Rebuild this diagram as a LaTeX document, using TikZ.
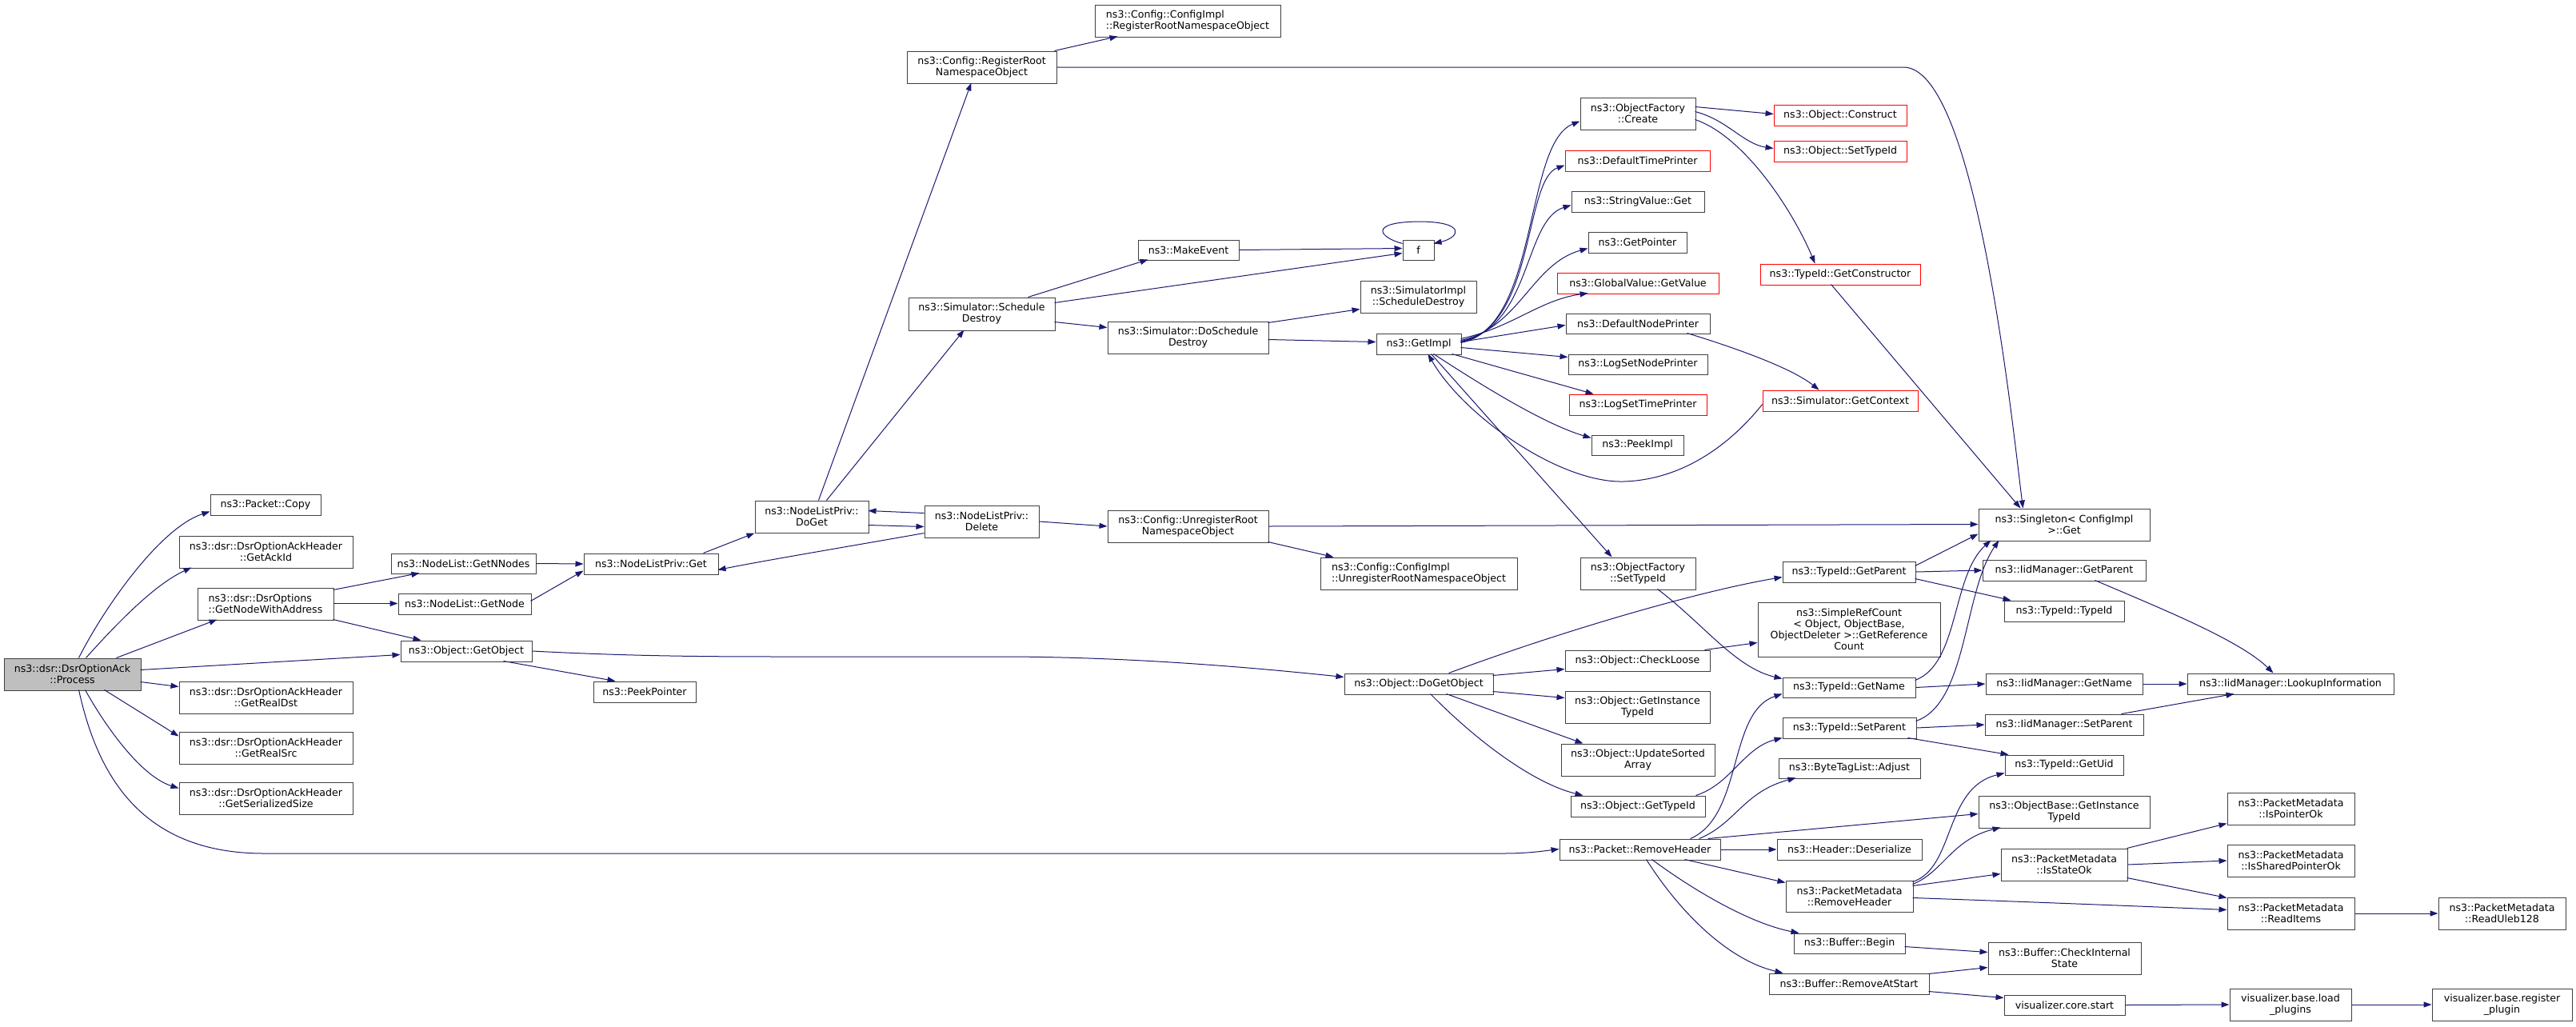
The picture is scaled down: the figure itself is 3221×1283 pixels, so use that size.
\documentclass[tikz,border=0pt]{standalone}
\usepackage{fontspec}
\setmainfont{DejaVu Sans}
\usetikzlibrary{arrows.meta,calc}
\definecolor{edgec}{HTML}{191970}
\definecolor{bordc}{HTML}{404040}
\definecolor{rootfill}{HTML}{BFBFBF}
\tikzset{
 box/.style={draw=bordc, line width=1pt, fill=white, inner sep=0pt, align=center, font=\fontsize{12.6}{14}\selectfont, text=black},
 redbox/.style={draw=red, line width=0.9pt},
 rootbox/.style={fill=rootfill},
 ed/.style={draw=edgec, line width=1pt, -{Triangle[length=10pt,width=7pt]}}
}
\newcommand\mybox[7][]{\node[box,#1,minimum width={(#5-#3)*1pt},minimum height={(#6-#4)*1pt}] (#2) at ({(#3+#5)/2},{(#4+#6)/2}) {#7};}
\begin{document}
\begin{tikzpicture}[x=1pt,y=-1pt]
\useasboundingbox (0,0) rectangle (3221,1283);
% column 1-2
\mybox[rootbox]{proc}{5}{823}{176}{863}{ns3::dsr::DsrOptionAck\\::Process}
\mybox{copy}{263}{618}{401}{644}{ns3::Packet::Copy}
\mybox{ackid}{224}{670}{441}{710}{ns3::dsr::DsrOptionAckHeader\\::GetAckId}
\mybox[align=left]{gnwa}{247}{735}{417}{775}{ns3::dsr::DsrOptions\\::GetNodeWithAddress}
\mybox{realdst}{224}{852}{441}{892}{ns3::dsr::DsrOptionAckHeader\\::GetRealDst}
\mybox{realsrc}{224}{915}{441}{955}{ns3::dsr::DsrOptionAckHeader\\::GetRealSrc}
\mybox{sersize}{224}{978}{441}{1018}{ns3::dsr::DsrOptionAckHeader\\::GetSerializedSize}
\mybox{gnnodes}{489}{692}{670}{717}{ns3::NodeList::GetNNodes}
\mybox{getnode}{498}{742}{664}{768}{ns3::NodeList::GetNode}
\mybox{getobj}{501}{801}{665}{827}{ns3::Object::GetObject}
\mybox{nlget}{730}{692}{898}{718}{ns3::NodeListPriv::Get}
\mybox{peekptr}{742}{852}{870}{878}{ns3::PeekPointer}
\mybox{doget}{944}{626}{1086}{666}{ns3::NodeListPriv::\\DoGet}
\mybox{delete}{1156}{632}{1299}{672}{ns3::NodeListPriv::\\Delete}
\mybox{regroot}{1134}{64}{1321}{104}{ns3::Config::RegisterRoot\\NamespaceObject}
\mybox[align=left]{ciregroot}{1369}{6}{1601}{46}{ns3::Config::ConfigImpl\\::RegisterRootNamespaceObject}
\mybox{schdes}{1136}{372}{1319}{413}{ns3::Simulator::Schedule\\Destroy}
\mybox{makeev}{1423}{300}{1549}{325}{ns3::MakeEvent}
\mybox{doschdes}{1385}{402}{1586}{442}{ns3::Simulator::DoSchedule\\Destroy}
\mybox{unreg}{1385}{638}{1586}{678}{ns3::Config::UnregisterRoot\\NamespaceObject}
\mybox{f}{1754}{300}{1793}{325}{f}
\mybox{simimpl}{1701}{351}{1846}{391}{ns3::SimulatorImpl\\::ScheduleDestroy}
\mybox{getimpl}{1721}{417}{1827}{443}{ns3::GetImpl}
\mybox{ofcreate}{1976}{122}{2120}{162}{ns3::ObjectFactory\\::Create}
\mybox[redbox]{deftp}{1957}{188}{2138}{214}{ns3::DefaultTimePrinter}
\mybox{strget}{1965}{239}{2131}{265}{ns3::StringValue::Get}
\mybox{getptr}{1986}{290}{2109}{316}{ns3::GetPointer}
\mybox[redbox]{gvget}{1947}{341}{2149}{367}{ns3::GlobalValue::GetValue}
\mybox{defnp}{1958}{392}{2138}{417}{ns3::DefaultNodePrinter}
\mybox{lsnp}{1961}{443}{2135}{468}{ns3::LogSetNodePrinter}
\mybox[redbox]{lstp}{1962}{493}{2134}{519}{ns3::LogSetTimePrinter}
\mybox{peekimpl}{1990}{544}{2105}{569}{ns3::PeekImpl}
\mybox{ofsettid}{1976}{697}{2120}{737}{ns3::ObjectFactory\\::SetTypeId}
\mybox[align=left]{ciunreg}{1651}{697}{1897}{737}{ns3::Config::ConfigImpl\\::UnregisterRootNamespaceObject}
\mybox{dogetobj}{1681}{842}{1867}{868}{ns3::Object::DoGetObject}
\mybox{checkloose}{1957}{813}{2138}{839}{ns3::Object::CheckLoose}
\mybox{objgit}{1957}{864}{2138}{904}{ns3::Object::GetInstance\\TypeId}
\mybox{updsort}{1952}{930}{2144}{970}{ns3::Object::UpdateSorted\\Array}
\mybox{objgettid}{1964}{995}{2132}{1021}{ns3::Object::GetTypeId}
\mybox{pktrh}{1950}{1049}{2151}{1075}{ns3::Packet::RemoveHeader}
\mybox[redbox]{construct}{2218}{131}{2384}{157}{ns3::Object::Construct}
\mybox[redbox]{objsettid}{2218}{176}{2384}{202}{ns3::Object::SetTypeId}
\mybox[redbox]{getctor}{2201}{330}{2401}{356}{ns3::TypeId::GetConstructor}
\mybox[redbox]{getctx}{2204}{488}{2398}{514}{ns3::Simulator::GetContext}
\mybox{tidgp}{2229}{702}{2395}{728}{ns3::TypeId::GetParent}
\mybox{simpleref}{2198}{753}{2426}{821}{ns3::SimpleRefCount\\< Object, ObjectBase,\\ObjectDeleter >::GetReference\\Count}
\mybox{tidgn}{2229}{847}{2395}{872}{ns3::TypeId::GetName}
\mybox{tidsp}{2229}{897}{2396}{923}{ns3::TypeId::SetParent}
\mybox{btl}{2224}{948}{2401}{973}{ns3::ByteTagList::Adjust}
\mybox{hdrdeser}{2222}{1049}{2403}{1075}{ns3::Header::Deserialize}
\mybox{pmrh}{2233}{1101}{2392}{1140}{ns3::PacketMetadata\\::RemoveHeader}
\mybox{bufbegin}{2243}{1167}{2382}{1192}{ns3::Buffer::Begin}
\mybox{bufras}{2212}{1217}{2412}{1243}{ns3::Buffer::RemoveAtStart}
\mybox{singleton}{2474}{636}{2688}{676}{ns3::Singleton< ConfigImpl\\>::Get}
\mybox{iidgp}{2479}{700}{2683}{726}{ns3::IidManager::GetParent}
\mybox{tidtid}{2506}{751}{2656}{777}{ns3::TypeId::TypeId}
\mybox{iidgn}{2483}{842}{2679}{868}{ns3::IidManager::GetName}
\mybox{iidsp}{2482}{893}{2680}{919}{ns3::IidManager::SetParent}
\mybox{getuid}{2507}{944}{2655}{969}{ns3::TypeId::GetUid}
\mybox{obgit}{2474}{995}{2688}{1035}{ns3::ObjectBase::GetInstance\\TypeId}
\mybox{isstateok}{2502}{1061}{2660}{1101}{ns3::PacketMetadata\\::IsStateOk}
\mybox{checkint}{2486}{1178}{2677}{1218}{ns3::Buffer::CheckInternal\\State}
\mybox{corestart}{2506}{1244}{2657}{1269}{visualizer.core.start}
\mybox{lookup}{2735}{842}{2993}{868}{ns3::IidManager::LookupInformation}
\mybox{ispointer}{2785}{991}{2944}{1031}{ns3::PacketMetadata\\::IsPointerOk}
\mybox{isshared}{2785}{1056}{2944}{1096}{ns3::PacketMetadata\\::IsSharedPointerOk}
\mybox{readitems}{2785}{1122}{2944}{1162}{ns3::PacketMetadata\\::ReadItems}
\mybox{readuleb}{3049}{1122}{3208}{1162}{ns3::PacketMetadata\\::ReadUleb128}
\mybox{loadplug}{2788}{1236}{2940}{1276}{visualizer.base.load\\\_plugins}
\mybox{regplug}{3041}{1236}{3216}{1276}{visualizer.base.register\\\_plugin}
% edges
\draw[ed] ($(proc.north west)+(94,0)$) .. controls (130,760) and (200,660) .. ($(copy.north west)+(0,22)$);
\draw[ed] ($(proc.north west)+(103,0)$) .. controls (150,775) and (195,730) .. ($(ackid.north west)+(16,40)$);
\draw[ed] ($(proc.north west)+(141,0)$) -- ($(gnwa.north west)+(25,40)$);
\draw[ed] ($(proc.north west)+(171,15)$) -- ($(getobj.north west)+(0,18)$);
\draw[ed] ($(proc.north west)+(171,30)$) -- ($(realdst.north west)+(0,7)$);
\draw[ed] ($(proc.north west)+(126,40)$) -- ($(realsrc.north west)+(0,6)$);
\draw[ed] ($(proc.north west)+(102,40)$) .. controls (130,905) and (175,970) .. ($(sersize.north west)+(0,8)$);
\draw[ed] ($(proc.north west)+(94,40)$) .. controls (120,960) and (170,1067) .. (330,1067) -- (1880,1067) .. controls (1910,1067) and (1930,1064) .. ($(pktrh.north west)+(0,13)$);
\draw[ed] ($(gnwa.north west)+(170,3)$) -- ($(gnnodes.north west)+(36,25)$);
\draw[ed] ($(gnwa.north west)+(170,20)$) -- ($(getnode.north west)+(0,13)$);
\draw[ed] ($(gnwa.north west)+(170,40)$) -- ($(getobj.north west)+(26,0)$);
\draw[ed] (gnnodes.east) -- (nlget.west);
\draw[ed] ($(getnode.north west)+(166,10)$) -- ($(nlget.north west)+(0,22)$);
\draw[ed] ($(nlget.north west)+(150,0)$) -- (doget.south west);
\draw[ed] ($(delete.north west)+(0,35)$) .. controls (1080,680) and (960,700) .. ($(nlget.north west)+(168,21)$);
\draw[ed] ($(doget.north west)+(142,31)$) -- ($(delete.north west)+(0,27)$);
\draw[ed] ($(delete.north west)+(0,10)$) -- ($(doget.north west)+(142,13)$);
\draw[ed] ($(doget.north west)+(80,0)$) -- ($(regroot.north west)+(81,40)$);
\draw[ed] ($(doget.north west)+(90,0)$) -- ($(schdes.north west)+(70,41)$);
\draw[ed] (delete.east) -- (unreg.west);
\draw[ed] ($(regroot.north west)+(185,0)$) -- ($(ciregroot.north west)+(29,40)$);
\draw[ed] (regroot.east) -- (2380,84) .. controls (2470,84) and (2515,520) .. ($(singleton.north west)+(56,0)$);
\draw[ed] ($(schdes.north west)+(150,0)$) -- ($(makeev.north west)+(13,25)$);
\draw[ed] ($(schdes.north west)+(183,7)$) -- ($(f.north west)+(0,17)$);
\draw[ed] ($(schdes.north west)+(183,31)$) -- ($(doschdes.north west)+(0,8)$);
\draw[ed] (makeev.east) -- ($(f.north west)+(0,11)$);
\draw[ed] ($(f.north west)+(0,5)$) .. controls (1725,297) and (1710,278) .. (1773,277) .. controls (1835,277) and (1825,297) .. ($(f.north west)+(39,5)$);
\draw[ed] ($(doschdes.north west)+(201,2)$) -- ($(simimpl.north west)+(0,36)$);
\draw[ed] ($(doschdes.north west)+(201,23)$) -- ($(getimpl.north west)+(0,11)$);
\draw[ed] ($(getimpl.north west)+(106,11)$) -- ($(defnp.north west)+(0,15)$);
\draw[ed] ($(getimpl.north west)+(106,18)$) -- ($(lsnp.north west)+(0,4)$);
\draw[ed] ($(getimpl.north west)+(95,26)$) -- ($(lstp.north west)+(31,0)$);
\draw[ed] ($(getimpl.north west)+(72,26)$) .. controls (1850,480) and (1930,530) .. ($(peekimpl.north west)+(0,4)$);
\draw[ed] ($(getimpl.north west)+(106,7)$) .. controls (1890,410) and (1925,375) .. ($(gvget.north west)+(39,26)$);
\draw[ed] ($(getimpl.north west)+(106,9)$) .. controls (1900,410) and (1915,330) .. ($(getptr.north west)+(0,21)$);
\draw[ed] ($(getimpl.north west)+(106,10)$) .. controls (1915,410) and (1905,275) .. ($(strget.north west)+(0,18)$);
\draw[ed] ($(getimpl.north west)+(106,11)$) .. controls (1920,410) and (1905,225) .. ($(deftp.north west)+(0,19)$);
\draw[ed] ($(getimpl.north west)+(106,12)$) .. controls (1925,410) and (1905,180) .. ($(ofcreate.north west)+(0,30)$);
\draw[ed] ($(getimpl.north west)+(69,26)$) -- ($(ofsettid.north west)+(40,0)$);
\draw[ed] ($(getctx.north west)+(0,18)$) .. controls (2160,560) and (2100,600) .. (2030,602) .. controls (1950,604) and (1830,520) .. ($(getimpl.north west)+(65,26)$);
\draw[ed] ($(defnp.north west)+(152,25)$) .. controls (2170,435) and (2240,460) .. ($(getctx.north west)+(71,0)$);
\draw[ed] ($(ofcreate.north west)+(144,12)$) -- ($(construct.north west)+(0,12)$);
\draw[ed] ($(ofcreate.north west)+(144,18)$) .. controls (2160,150) and (2180,180) .. ($(objsettid.north west)+(0,10)$);
\draw[ed] ($(ofcreate.north west)+(144,28)$) .. controls (2180,170) and (2240,260) .. ($(getctor.north west)+(69,0)$);
\draw[ed] ($(getctor.north west)+(89,26)$) -- ($(singleton.north west)+(53,0)$);
\draw[ed] (unreg.east) -- ($(singleton.north west)+(0,20)$);
\draw[ed] ($(unreg.north west)+(201,40)$) -- ($(ciunreg.north west)+(17,0)$);
\draw[ed] (getobj.east) .. controls (800,821) and (900,821) .. (1000,821) -- (1250,821) .. controls (1420,821) and (1580,836) .. ($(dogetobj.north west)+(0,5)$);
\draw[ed] ($(getobj.north west)+(129,26)$) -- ($(peekptr.north west)+(28,0)$);
\draw[ed] ($(dogetobj.north west)+(131,0)$) .. controls (1950,790) and (2120,740) .. ($(tidgp.north west)+(0,20)$);
\draw[ed] ($(dogetobj.north west)+(186,3)$) -- ($(checkloose.north west)+(0,24)$);
\draw[ed] ($(dogetobj.north west)+(186,23)$) -- ($(objgit.north west)+(0,9)$);
\draw[ed] ($(dogetobj.north west)+(128,26)$) -- ($(updsort.north west)+(28,0)$);
\draw[ed] ($(dogetobj.north west)+(108,26)$) .. controls (1850,930) and (1920,980) .. ($(objgettid.north west)+(16,0)$);
\draw[ed] ($(checkloose.north west)+(175,0)$) -- ($(simpleref.north west)+(0,51)$);
\draw[ed] ($(objgettid.north west)+(157,0)$) .. controls (2165,980) and (2180,935) .. ($(tidsp.north west)+(0,26)$);
\draw[ed] ($(ofsettid.north west)+(97,40)$) .. controls (2130,780) and (2170,835) .. ($(tidgn.north west)+(0,2)$);
\draw[ed] ($(tidgp.north west)+(166,6)$) -- ($(singleton.north west)+(0,32)$);
\draw[ed] (tidgp.east) -- (iidgp.west);
\draw[ed] ($(tidgp.north west)+(166,22)$) -- ($(tidtid.north west)+(9,0)$);
\draw[ed] ($(iidgp.north west)+(141,26)$) .. controls (2700,760) and (2800,800) .. ($(lookup.north west)+(108,0)$);
\draw[ed] (iidgn.east) -- (lookup.west);
\draw[ed] ($(iidsp.north west)+(171,0)$) -- ($(lookup.north west)+(59,26)$);
\draw[ed] ($(tidgn.north west)+(166,4)$) .. controls (2450,830) and (2440,720) .. ($(singleton.north west)+(16,40)$);
\draw[ed] ($(tidsp.north west)+(167,5)$) .. controls (2460,880) and (2455,740) .. ($(singleton.north west)+(26,40)$);
\draw[ed] (tidgn.east) -- (iidgn.west);
\draw[ed] (tidsp.east) -- (iidsp.west);
\draw[ed] ($(tidsp.north west)+(157,26)$) -- ($(getuid.north west)+(5,0)$);
\draw[ed] ($(pktrh.north west)+(164,0)$) .. controls (2180,1020) and (2160,890) .. ($(tidgn.north west)+(0,21)$);
\draw[ed] ($(pktrh.north west)+(175,0)$) .. controls (2170,1030) and (2180,990) .. ($(btl.north west)+(22,25)$);
\draw[ed] ($(pktrh.north west)+(186,0)$) -- ($(obgit.north west)+(0,23)$);
\draw[ed] (pktrh.east) -- (hdrdeser.west);
\draw[ed] ($(pktrh.north west)+(157,26)$) -- ($(pmrh.north west)+(0,3)$);
\draw[ed] ($(pktrh.north west)+(116,26)$) .. controls (2120,1115) and (2190,1155) .. ($(bufbegin.north west)+(7,0)$);
\draw[ed] ($(pktrh.north west)+(109,26)$) .. controls (2100,1140) and (2160,1200) .. ($(bufras.north west)+(18,0)$);
\draw[ed] ($(pmrh.north west)+(159,2)$) .. controls (2445,1085) and (2430,985) .. ($(getuid.north west)+(0,23)$);
\draw[ed] ($(pmrh.north west)+(159,5)$) .. controls (2430,1090) and (2440,1050) .. ($(obgit.north west)+(28,40)$);
\draw[ed] ($(pmrh.north west)+(159,7)$) -- ($(isstateok.north west)+(0,32)$);
\draw[ed] ($(pmrh.north west)+(159,22)$) .. controls (2550,1128) and (2700,1134) .. ($(readitems.north west)+(0,16)$);
\draw[ed] ($(isstateok.north west)+(158,0)$) -- ($(ispointer.north west)+(0,39)$);
\draw[ed] (isstateok.east) -- (isshared.west);
\draw[ed] ($(isstateok.north west)+(158,37)$) -- ($(readitems.north west)+(0,1)$);
\draw[ed] (readitems.east) -- (readuleb.west);
\draw[ed] ($(bufbegin.north west)+(139,17)$) -- ($(checkint.north west)+(0,13)$);
\draw[ed] ($(bufras.north west)+(200,1)$) -- ($(checkint.north west)+(0,32)$);
\draw[ed] ($(bufras.north west)+(200,23)$) -- ($(corestart.north west)+(0,4)$);
\draw[ed] (corestart.east) -- (loadplug.west);
\draw[ed] (loadplug.east) -- (regplug.west);
\end{tikzpicture}
\end{document}
